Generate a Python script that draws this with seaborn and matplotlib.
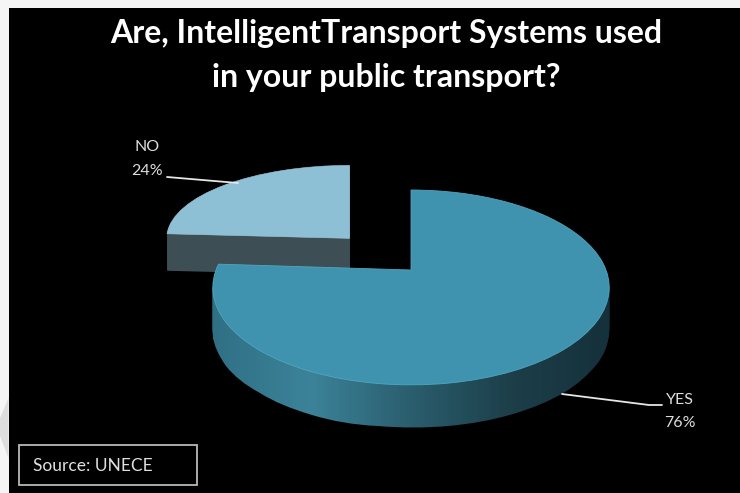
import numpy as np
import matplotlib
matplotlib.use("Agg")
import matplotlib.pyplot as plt
import matplotlib.transforms as mtransforms
from matplotlib.lines import Line2D
from matplotlib.patches import Polygon, Rectangle
import seaborn as sns

# Data

categories = ["YES", "NO"]
shares = [76, 24]
share_labels = ["76%", "24%"]

title_lines = ["Are, IntelligentTransport Systems used", "in your public transport?"]
source_text = "Source: UNECE"

# Style

sns.set_theme(style="dark", rc={"axes.facecolor": "none"})
plt.rcParams["font.family"] = ["Lato", "DejaVu Sans"]

top_colours = ["#3f93ae", "#8dbfd5"]
rim_colours = ["#4fa6c1", "#9ccbde"]
no_wall_colour = "#3d4e55"
yes_wall = sns.blend_palette(["#2f6f84", "#3b8298", "#2a5d6d", "#1c3e49", "#14303a"], as_cmap=True)

W, H = 740, 493


def fx(px):
    return px / W


def fy(py):
    return 1 - py / H


# Perspective: the back of the pie is further away than the front

class Tilt(mtransforms.Transform):
    input_dims = 2
    output_dims = 2
    depth = 0.179

    def transform_non_affine(self, values):
        values = np.asarray(values, dtype=float)
        scale = 1 + self.depth * values[:, 1]
        return values / scale[:, None]


fig = plt.figure(figsize=(W / 100, H / 100), dpi=100, facecolor="#f5f5f5")

# Black slide behind everything

fig.patches.append(Rectangle((fx(9), 0), 1 - fx(9), fy(8), transform=fig.transFigure,
                             facecolor="black", edgecolor="none", zorder=-5))
fig.patches.append(Polygon([(fx(0), fy(418)), (fx(8.5), fy(398)), (fx(8.5), fy(458)), (fx(0), fy(436))],
                           transform=fig.transFigure, facecolor="#dddddd", edgecolor="none", zorder=-4))

# Axes for the pie, apex of the big slice sits at pixel (411, 270)

left, right, top, bottom = 140, 640, 150, 440
unit_x, unit_y = 195, 94.3
ax = fig.add_axes([fx(left), fy(bottom), fx(right - left), fy(top) - fy(bottom)])

explode = [0, 0.46]
radius_no = 0.938
squash_no = 0.825
apex_no = explode[1] * np.sin(np.deg2rad(133))
no_shape = mtransforms.Affine2D().translate(0, -apex_no).scale(1, squash_no).translate(0, apex_no)


def draw_pie(drop):
    shift = mtransforms.Affine2D().translate(0, -drop)
    wedges, _ = ax.pie(shares, explode=explode, startangle=90, counterclock=False, radius=1,
                       colors=top_colours, wedgeprops={"linewidth": 0})
    wedges[0].set_transform(Tilt() + ax.transData + shift)
    wedges[1].set_radius(radius_no)
    wedges[1].set_transform(no_shape + ax.transData + shift)
    return wedges


# Side walls, back to front

x_limits = ((left - 411) / unit_x, (right - 411) / unit_x)
y_limits = ((270 - bottom) / unit_y, (270 - top) / unit_y)

grad_x = np.linspace(-1.04, 1.04, 120)
grad_y = np.array(y_limits)
grad_c = np.linspace(0, 1, 119).reshape(1, -1)

for drop in range(43, 0, -1):
    yes_w, no_w = draw_pie(drop)
    no_w.set_zorder(1)
    no_w.set_facecolor(no_wall_colour)
    no_w.set_visible(drop <= 37)
    yes_w.set_zorder(3)
    yes_w.set_visible(False)
    mesh = ax.pcolormesh(grad_x, grad_y, grad_c, cmap=yes_wall, shading="flat", zorder=3)
    mesh.set_clip_path(yes_w)

# Top faces

yes_top, no_top = draw_pie(0)
yes_top.set(zorder=5, edgecolor=rim_colours[0], linewidth=0.6)
no_top.set(zorder=2, edgecolor=rim_colours[1], linewidth=0.4)

ax.set_aspect("auto")
ax.set_xlim(x_limits)
ax.set_ylim(y_limits)
ax.set_frame_on(False)
ax.set_xticks([])
ax.set_yticks([])

# Title

fig.text(fx(386), fy(34), title_lines[0], color="white", fontsize=23, fontweight="bold",
         ha="center", va="center")
fig.text(fx(386), fy(77), title_lines[1], color="white", fontsize=23, fontweight="bold",
         ha="center", va="center")

# Slice labels and leader lines

fig.text(fx(147), fy(147), categories[1], color="#dddddd", fontsize=11.5, ha="center", va="center")
fig.text(fx(147), fy(171), share_labels[1], color="#dddddd", fontsize=11.5, ha="center", va="center")
fig.text(fx(680), fy(400), categories[0], color="#dddddd", fontsize=11.5, ha="center", va="center")
fig.text(fx(680), fy(423), share_labels[0], color="#dddddd", fontsize=11.5, ha="center", va="center")

fig.add_artist(Line2D([fx(167), fx(238)], [fy(177), fy(183)], color="#e6e6e6", linewidth=1.3))
fig.add_artist(Line2D([fx(562), fx(649), fx(662)], [fy(394), fy(405), fy(405)], color="#e6e6e6", linewidth=1.3))

# Source box

fig.add_artist(Rectangle((fx(19), fy(485)), fx(178), fy(445) - fy(485), transform=fig.transFigure,
                         facecolor="none", edgecolor="#c8c8c8", linewidth=1.2))
fig.text(fx(33), fy(466), source_text, color="#e0e0e0", fontsize=12.5, ha="left", va="center")

plt.savefig("out.png", dpi=100, facecolor=fig.get_facecolor())
